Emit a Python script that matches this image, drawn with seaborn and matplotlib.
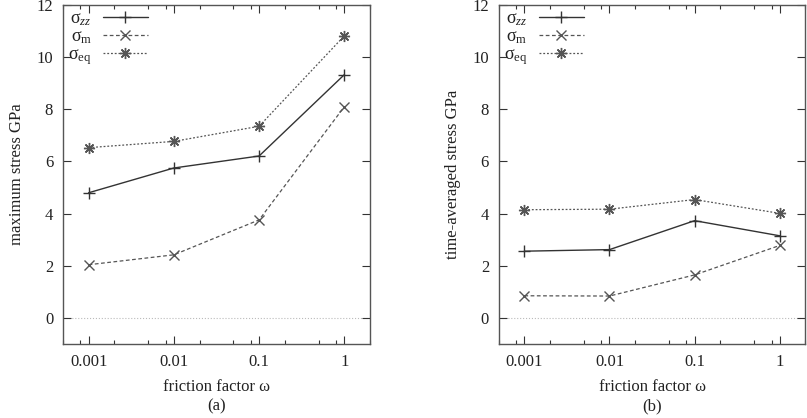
import matplotlib
matplotlib.use("Agg")
import matplotlib.pyplot as plt
import matplotlib.ticker as mticker
import pandas as pd
import seaborn as sns

# friction factor values (x axis, log scale)
friction = [0.001, 0.01, 0.1, 1]
tick_labels = ["0.001", "0.01", "0.1", "1"]

# (a) maximum stress GPa
max_zz = [4.80, 5.75, 6.21, 9.33]
max_m = [2.04, 2.42, 3.76, 8.10]
max_eq = [6.53, 6.77, 7.35, 10.82]

# (b) time-averaged stress GPa
avg_zz = [2.56, 2.62, 3.73, 3.15]
avg_m = [0.85, 0.84, 1.65, 2.78]
avg_eq = [4.15, 4.17, 4.54, 4.01]

series_labels = [r"$\mathregular{\sigma_{\mathit{zz}}}$",
                 r"$\mathregular{\sigma_m}$",
                 r"$\mathregular{\sigma_{eq}}$"]

sns.set_theme(style="white")
plt.rcParams["font.family"] = ["Liberation Serif", "DejaVu Serif"]
plt.rcParams["mathtext.fontset"] = "custom"
plt.rcParams["mathtext.rm"] = "Liberation Serif"
plt.rcParams["mathtext.it"] = "Liberation Serif:italic"
plt.rcParams["mathtext.bf"] = "Liberation Serif:bold"

fig = plt.figure(figsize=(8.07, 4.18), dpi=100)
ax_a = fig.add_axes([0.078, 0.177, 0.3805, 0.811])
ax_b = fig.add_axes([0.618, 0.177, 0.380, 0.811])

styles = [
    dict(color="#333333", linestyle="-", marker="+", markersize=8, linewidth=1.0),
    dict(color="#555555", linestyle=(0, (3, 2)), marker="x", markersize=7, linewidth=0.9),
    dict(color="#555555", linestyle=(0, (1.5, 1.5)), marker=(8, 2, 0), markersize=8, linewidth=0.9),
]


def draw(ax, values, ylabel, caption):
    for vals, lab, st in zip(values, series_labels, styles):
        df = pd.DataFrame({"friction": friction, "stress": vals})
        sns.lineplot(data=df, x="friction", y="stress", ax=ax, label=lab,
                     markeredgewidth=1.0, markeredgecolor=st["color"], **st)
    ax.set_xscale("log")
    ax.set_xlim(0.0005, 2.0)
    ax.set_ylim(-1, 12)
    ax.axhline(0, color="#bbbbbb", linestyle=":", linewidth=0.8, zorder=0)
    ax.xaxis.set_major_locator(mticker.FixedLocator(friction))
    ax.xaxis.set_major_formatter(mticker.FixedFormatter(tick_labels))
    ax.xaxis.set_minor_locator(mticker.LogLocator(base=10, subs=(2, 5, 8)))
    ax.xaxis.set_minor_formatter(mticker.NullFormatter())
    ax.set_yticks([0, 2, 4, 6, 8, 10, 12])
    ax.tick_params(axis="both", which="both", direction="in", top=True, right=True,
                   bottom=True, left=True, color="#333333", labelsize=12, labelcolor="#222222")
    ax.tick_params(axis="both", which="major", length=6, width=0.8, pad=7)
    ax.tick_params(axis="x", which="minor", length=3, width=0.8)
    for sp in ax.spines.values():
        sp.set_color("#555555")
        sp.set_linewidth(1.0)
    ax.set_xlabel("friction factor ω", fontsize=12, color="#222222", labelpad=7)
    ax.set_ylabel(ylabel, fontsize=12, color="#222222", labelpad=8)
    ax.text(0.5, -0.16, caption, transform=ax.transAxes, ha="center", va="top",
            fontsize=12, color="#222222")
    leg = ax.legend(loc="upper left", markerfirst=False, frameon=False, fontsize=13,
                    handlelength=2.5, handletextpad=0.6, labelspacing=0.02,
                    borderaxespad=0.15, borderpad=0.15)
    for t in leg.get_texts():
        t.set_color("#222222")


draw(ax_a, [max_zz, max_m, max_eq], "maximum stress GPa", "(a)")
draw(ax_b, [avg_zz, avg_m, avg_eq], "time-averaged stress GPa", "(b)")

fig.savefig("out.png", dpi=100)
